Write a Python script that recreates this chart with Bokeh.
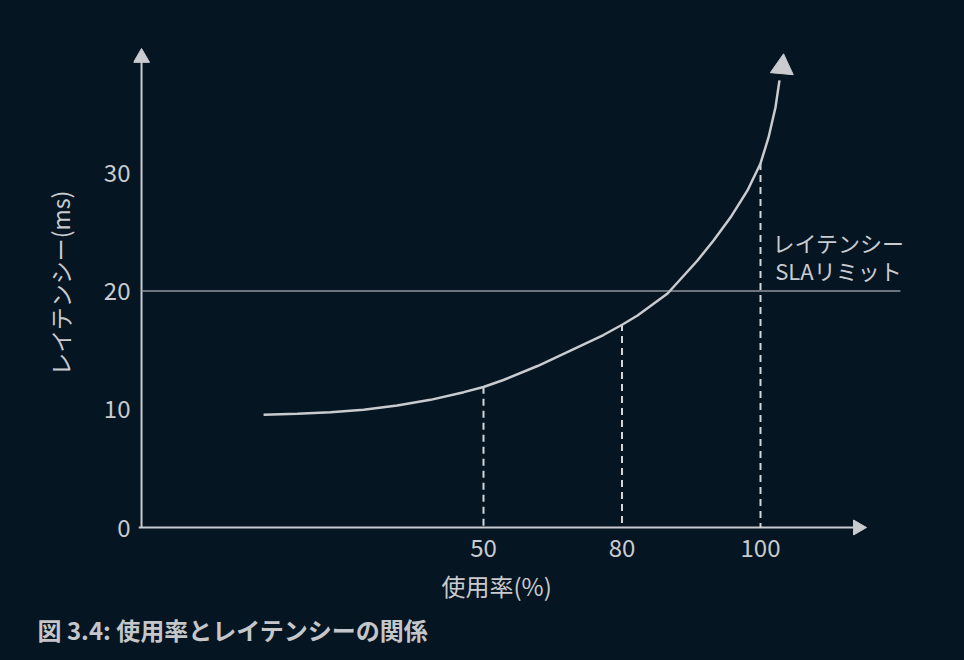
import math
from bokeh.plotting import figure
from bokeh.models import Label, FixedTicker, Range1d, Title
from bokeh.embed import file_html
from bokeh.resources import INLINE

# ---- data ----
util_labels = ["50", "80", "100"]          # tick labels on the utilisation axis
util_slots = [1, 2, 3]                      # evenly spaced slots used for those labels
latency_at_ticks = [11.9, 17.2, 30.8]       # latency (ms) where the dashed guides meet the curve
latency_ticks = [0, 10, 20, 30]
sla_limit = 20

curve_x = [-0.588, -0.345, -0.105, 0.134, 0.377, 0.617, 0.858, 1.000, 1.144, 1.390,
           1.628, 1.866, 2.004, 2.112, 2.329, 2.545, 2.661, 2.783, 2.906, 3.000,
           3.058, 3.108, 3.137]
curve_y = [9.53, 9.61, 9.75, 9.95, 10.31, 10.79, 11.44, 11.88, 12.47, 13.65,
           14.96, 16.27, 17.16, 17.92, 19.78, 22.57, 24.26, 26.20, 28.49, 30.77,
           32.97, 35.50, 37.79]
curve_head = (3.158, 38.92)

x_label = "使用率(%)"
y_label = "レイテンシー(ms)"
sla_text = ["レイテンシー", "SLAリミット"]
caption = "図 3.4: 使用率とレイテンシーの関係"

# ---- style ----
BG = "#051522"
FG = "#c9cbce"
FONT = "Noto Sans CJK JP"

X0, X1 = -1.527, 4.083      # frame extent
Y0, Y1 = -0.676, 42.01
X_AXIS = -1.469             # where the drawn y-axis sits
Y_AXIS = 0

p = figure(width=964, height=660, output_backend="svg", toolbar_location=None,
           x_range=Range1d(X0, X1), y_range=Range1d(Y0, Y1),
           min_border_left=133, min_border_right=54,
           min_border_top=30, min_border_bottom=125,
           background_fill_color=None, border_fill_color=None)
p.styles = {"background-color": BG}
p.outline_line_color = None
p.grid.visible = False

for ax in (p.xaxis[0], p.yaxis[0]):
    ax.axis_line_color = None
    ax.major_tick_line_color = None
    ax.minor_tick_line_color = None
    ax.major_tick_out = 0
    ax.major_tick_in = 0
    ax.major_label_text_color = FG
    ax.major_label_text_font = FONT
    ax.major_label_text_font_size = "24px"
    ax.axis_label_text_color = FG
    ax.axis_label_text_font = FONT
    ax.axis_label_text_font_style = "normal"
    ax.axis_label_text_font_size = "23px"

p.xaxis.ticker = FixedTicker(ticks=util_slots)
p.xaxis.major_label_overrides = {s: l for s, l in zip(util_slots, util_labels)}
p.xaxis.major_label_standoff = 3

p.yaxis.ticker = FixedTicker(ticks=latency_ticks)
p.yaxis.major_label_standoff = 3
p.yaxis.axis_label = y_label
p.yaxis.axis_label_standoff = 24

# x-axis title and caption below the chart
p.add_layout(Title(text=x_label, align="left", offset=308, standoff=13,
                   text_font=FONT, text_font_size="24px", text_font_style="normal",
                   text_color=FG), "below")
p.add_layout(Title(text=caption, align="left", offset=-96, standoff=0,
                   text_font=FONT, text_font_size="24px", text_font_style="bold",
                   text_color="#c4c6c9"), "below")

# axes with arrow heads (glyphs)
p.segment(x0=[X_AXIS, X_AXIS - 0.02], y0=[Y_AXIS, Y_AXIS],
          x1=[X_AXIS, 3.70], y1=[39.7, Y_AXIS], line_color=FG, line_width=2)
p.scatter(x=[X_AXIS, 3.703], y=[39.71, Y_AXIS], marker="triangle", size=[16, 15],
          angle=[0, -math.pi / 2], fill_color=FG, line_color=FG)

# SLA limit line
p.segment(x0=[X_AXIS], y0=[sla_limit], x1=[4.01], y1=[sla_limit],
          line_color="#8f969d", line_width=1.5)

# dashed guides
p.segment(x0=util_slots, y0=latency_at_ticks, x1=util_slots, y1=[Y_AXIS] * len(util_slots),
          line_color="#d4d6d8", line_width=2, line_dash="7 5")

# latency curve + arrow head
p.line(curve_x, curve_y, line_color=FG, line_width=2.5)
p.scatter(x=[curve_head[0]], y=[curve_head[1]], marker="triangle", size=23,
          angle=-0.09, fill_color=FG, line_color=FG)

# SLA annotation text
for i, t in enumerate(sla_text):
    p.add_layout(Label(x=3.563, y=24.1 - i * 2.3, text=t, text_align="center",
                       text_baseline="middle", text_color=FG, text_font=FONT,
                       text_font_size="22px"))

html = file_html(p, INLINE)
if "<body>" in html:
    html = html.replace("<body>", '<body style="margin:0;background-color:%s">' % BG, 1)
open("out.html", "w").write(html)
